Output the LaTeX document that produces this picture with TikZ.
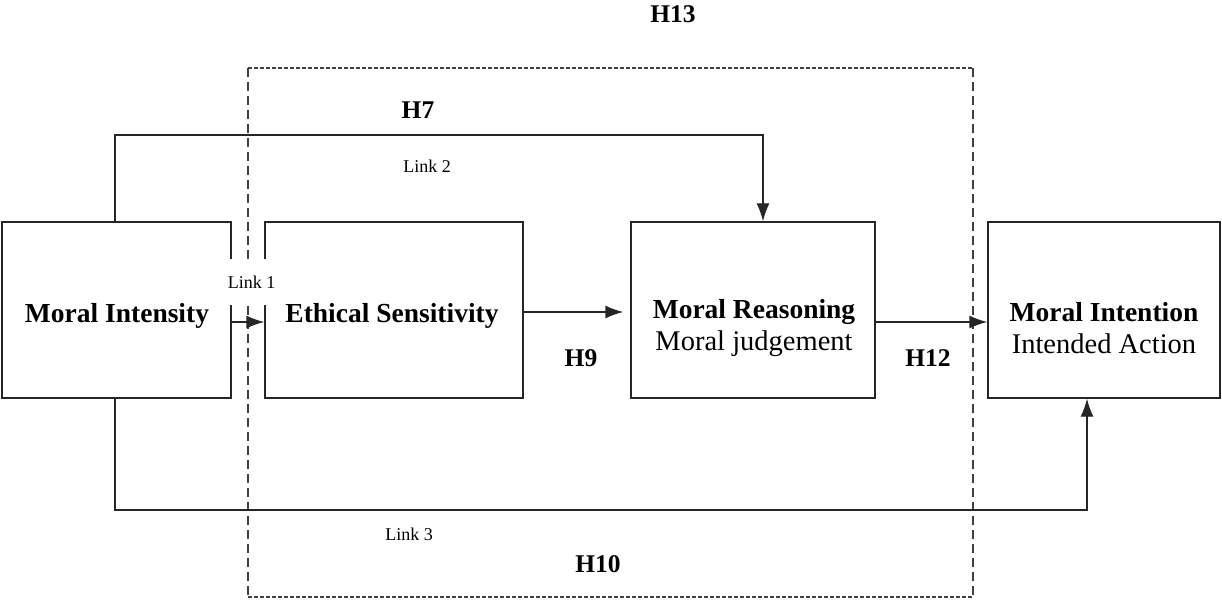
\documentclass[tikz,border=0pt]{standalone}
\usepackage{fontspec}
\setmainfont{Liberation Serif}
\usetikzlibrary{arrows.meta}
\begin{document}
\begin{tikzpicture}[x=1pt,y=-1pt,
  box/.style={draw=black!85,line width=1.4pt,minimum height=176pt,inner sep=0pt},
  boxtext/.style={font=\fontsize{27.5}{32}\selectfont\bfseries,align=center,inner sep=0pt},
  conn/.style={draw=black!85,line width=1.4pt},
  arr/.style={conn,-{Latex[length=18pt,width=13pt]}},
  hyp/.style={font=\fontsize{25.5}{30}\selectfont\bfseries,inner sep=0pt},
  linklab/.style={font=\fontsize{18}{21}\selectfont,inner sep=0pt},
  side/.style={draw=black!75,line width=1.1pt,dash pattern=on 9pt off 5pt},
  edge/.style={draw=black!75,line width=1.3pt,dash pattern=on 4pt off 2pt}]
\useasboundingbox (0,0) rectangle (1222,601);

% dashed frame
\coordinate (f1) at (248,68);
\coordinate (f2) at (973,68);
\coordinate (f3) at (973,597);
\coordinate (f4) at (248,597);
\draw[edge] (f1) -- (f2);
\draw[edge] (f4) -- (f3);
\draw[side] (f1) -- (f4);
\draw[side] (f2) -- (f3);

% boxes
\node[box,minimum width=229pt] (mi) at (116.5,310) {};
\node[box,minimum width=258pt] (es) at (394,310) {};
\node[box,minimum width=244pt] (mr) at (753,310) {};
\node[box,minimum width=232pt] (mn) at (1104,310) {};

\node[boxtext] (mit) at (117,316) {Moral Intensity};
\node[boxtext] (est) at (392,316) {Ethical Sensitivity};
\node[boxtext] (mrt) at (754,328) {Moral Reasoning\\\fontsize{28.5}{32}\selectfont\mdseries Moral judgement};
\node[boxtext] (mnt) at (1104,328) {Moral Intention\\\fontsize{28.5}{32}\selectfont\mdseries Intended Action};

% Link 1 label (white patch over the box edges)
\node[linklab,fill=white,minimum height=46pt,minimum width=48pt] (l1) at (251.5,282) {Link 1};

% connectors
\draw[arr] (mi.east |- 0,322) -- (es.west |- 0,322);
\draw[arr,shorten >=7pt] (es.east |- 0,312) -- (mr.west |- 0,312);
\draw[arr] (mr.east |- 0,322) -- (mn.west |- 0,322);

\coordinate (h7a) at (115,135);
\coordinate (h7b) at (763,135);
\draw[arr] (mi.north -| h7a) -- (h7a) -- (h7b) -- (h7b |- mr.north);

\coordinate (h10a) at (115,510);
\coordinate (h10b) at (1087,510);
\draw[arr] (mi.south -| h10a) -- (h10a) -- (h10b) -- (h10b |- mn.south);

% labels
\node[hyp] (h13) at (673,14) {H13};
\node[hyp] (h7) at (418,110) {H7};
\node[linklab] (l2) at (427,166) {Link 2};
\node[hyp] (h9) at (581,358) {H9};
\node[hyp] (h12) at (928,358) {H12};
\node[linklab] (l3) at (409,534) {Link 3};
\node[hyp] (h10) at (598,564) {H10};
\end{tikzpicture}
\end{document}
